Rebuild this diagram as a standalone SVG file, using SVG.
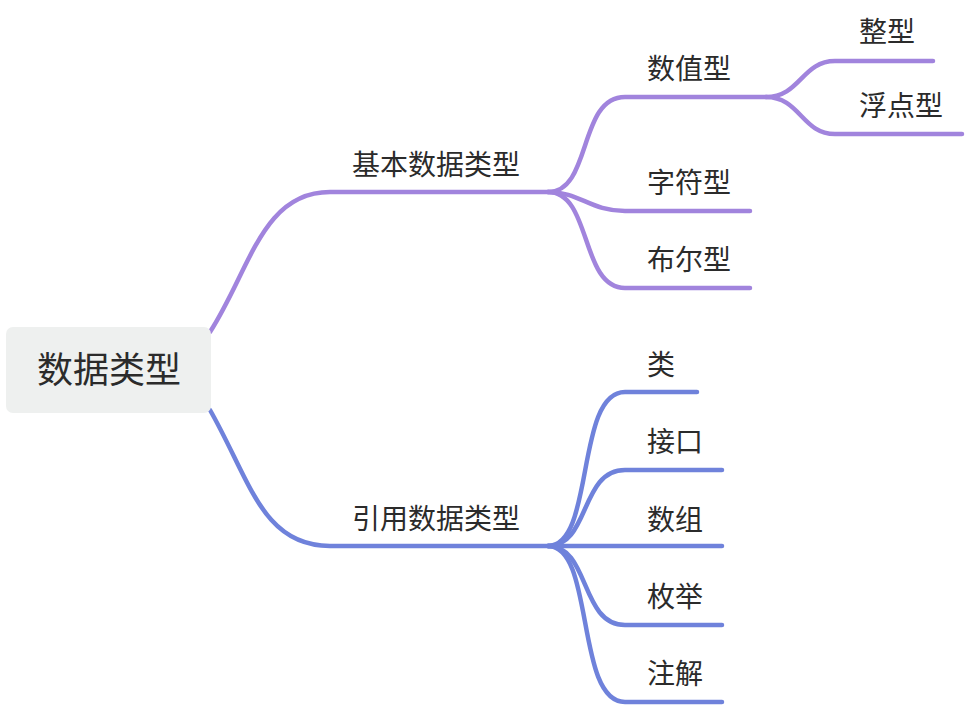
<svg xmlns="http://www.w3.org/2000/svg" width="966" height="706" viewBox="0 0 966 706">
<style>
text{font-family:"Noto Sans CJK SC","Noto Sans",sans-serif;fill:#2b2b2b;font-size:28px}
.root{font-size:36px}
.p{fill:none;stroke:#a184dd;stroke-width:4.5;stroke-linecap:round}
.b{fill:none;stroke:#6f82db;stroke-width:4.5;stroke-linecap:round}
</style>
<rect width="966" height="706" fill="#ffffff"/>
<g id="connectors">
<path class="p" d="M210 332 C250 270 262 192 330 192 H548"/>
<path class="p" d="M548 192 C592 192 578 97 625 97 H766"/>
<path class="p" d="M548 192 C580 192 590 211 625 211 H750"/>
<path class="p" d="M548 192 C592 192 580 288 625 288 H750"/>
<path class="p" d="M766 97 C800 97 802 61 835 61 H933"/>
<path class="p" d="M766 97 C800 97 802 134 835 134 H962"/>
<path class="b" d="M210 410 C250 480 262 546 330 546 H548"/>
<path class="b" d="M548 546 C595 546 575 392 625 392 H697"/>
<path class="b" d="M548 546 C590 546 580 470 625 470 H722"/>
<path class="b" d="M548 546 H722"/>
<path class="b" d="M548 546 C590 546 580 625 625 625 H722"/>
<path class="b" d="M548 546 C595 546 575 702 625 702 H722"/>
</g>
<g id="root"><rect x="6" y="327" width="205" height="86" rx="7" fill="#eef0ef"/><text class="root" x="37" y="383">数据类型</text></g>
<g id="n-basic"><text x="352" y="175">基本数据类型</text></g>
<g id="n-num"><text x="647" y="79">数值型</text></g>
<g id="n-int"><text x="859" y="42">整型</text></g>
<g id="n-float"><text x="859" y="116">浮点型</text></g>
<g id="n-char"><text x="647" y="193">字符型</text></g>
<g id="n-bool"><text x="647" y="270">布尔型</text></g>
<g id="n-ref"><text x="352" y="529">引用数据类型</text></g>
<g id="n-class"><text x="647" y="375">类</text></g>
<g id="n-iface"><text x="647" y="452">接口</text></g>
<g id="n-array"><text x="647" y="530">数组</text></g>
<g id="n-enum"><text x="647" y="607">枚举</text></g>
<g id="n-anno"><text x="647" y="684">注解</text></g>
</svg>
